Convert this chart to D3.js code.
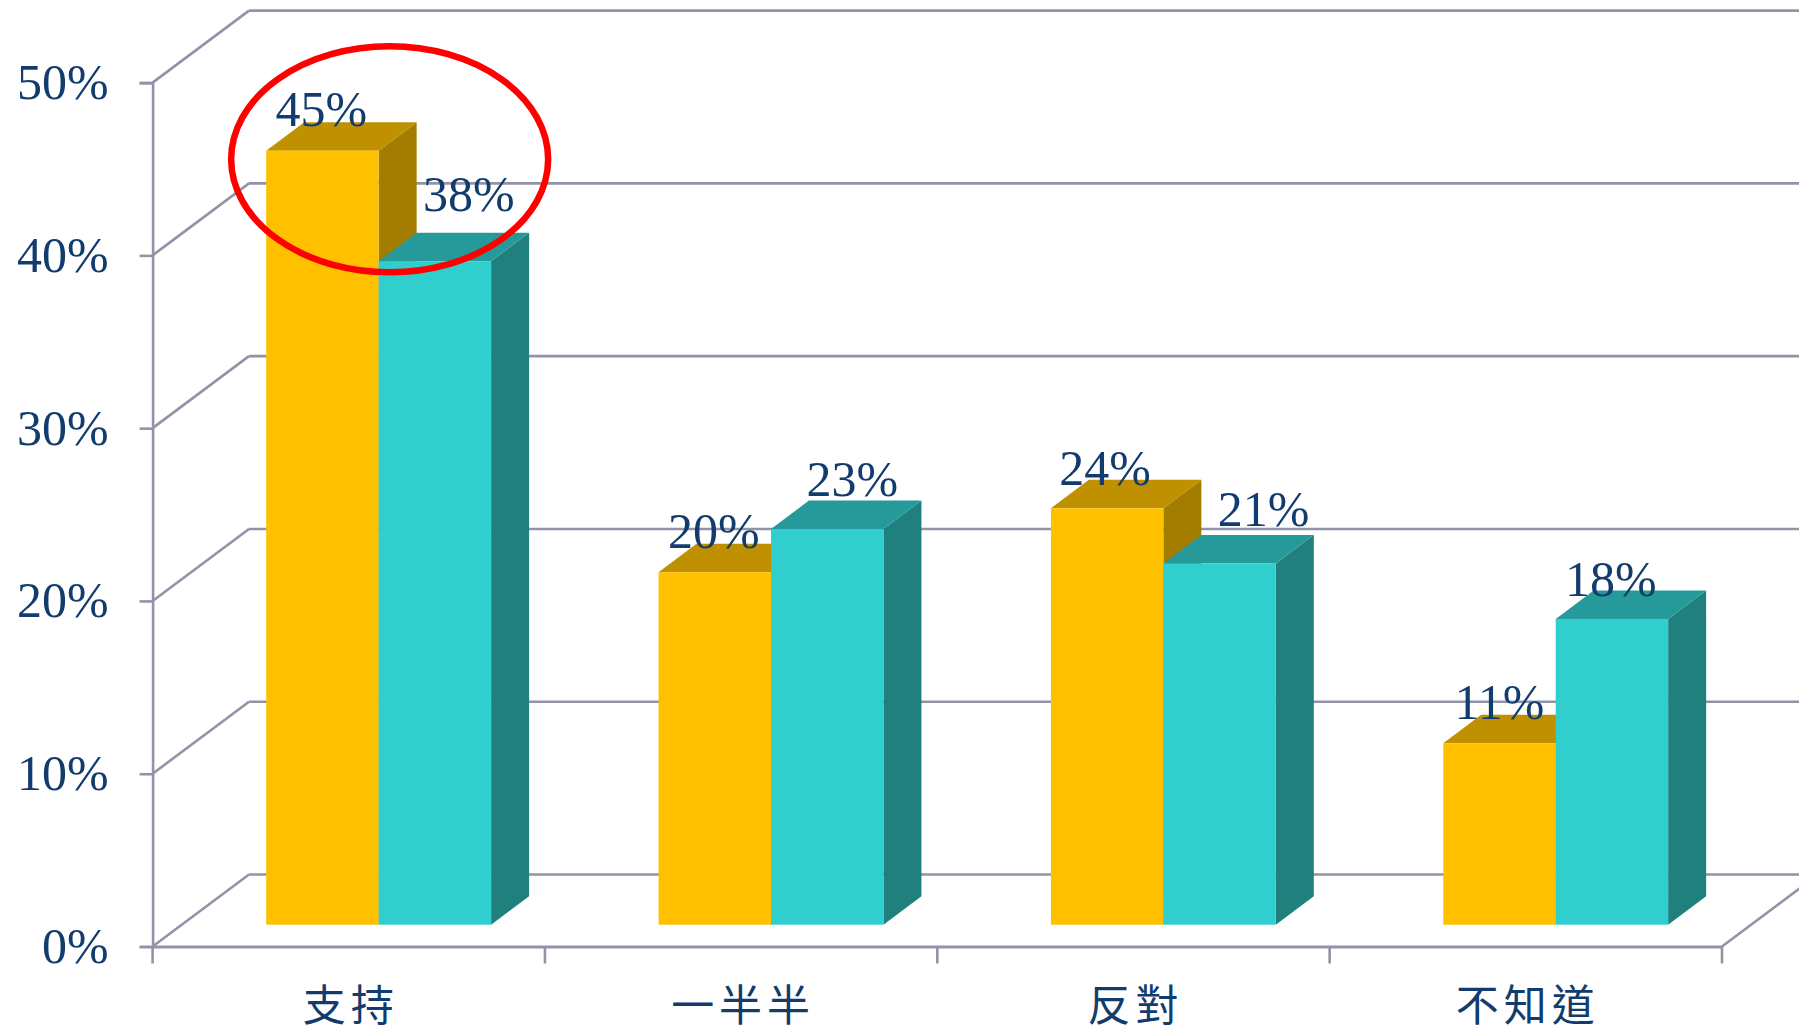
<!DOCTYPE html>
<html>
<head>
<meta charset="utf-8">
<script src="https://cdn.jsdelivr.net/npm/d3@7"></script>
<style>
  html, body { margin: 0; padding: 0; background: #fff; overflow: hidden; }
  svg { display: block; }
  text { fill: #123c6e; font-family: "Liberation Serif", serif; }
</style>
</head>
<body>
<div id="chart"></div>
<script>
const categories = ["支持", "一半半", "反對", "不知道"];
const seriesNames = ["a", "b"];
const seriesA = [44.8, 20.4, 24.1, 10.5];
const seriesB = [38.4, 22.9, 20.9, 17.7];
const yTicks = [0, 10, 20, 30, 40, 50];

const width = 1799, height = 1030;
const gridColor = "#9393a8";
const faces = {
  a: { front: "#ffc000", top: "#bf9000", side: "#a37d00" },
  b: { front: "#31cece", top: "#269a9a", side: "#1f807e" }
};
// the labels were moved by hand in the original, one [dx, dy] per bar
const labelNudge = {
  a: [[-1, 4], [-1, 4], [-2, 5], [0, 4]],
  b: [[34, -22], [25, -5], [44, -9], [-1, 6]]
};

const wallDepth = { x: 96.4, y: -72 };
const barDepth = { x: 38, y: -28.5 };
const barDrop = 21.8; // bars stand this far behind the front edge of the floor

const y = d3.scaleLinear().domain([0, 50]).range([946.5, 82.6]);
const x = d3.scaleBand().domain(categories).range([152.6, 1722]);
const xBar = d3.scaleBand().domain(seriesNames).range([113.6, 338.5]);

const svg = d3.select("#chart").append("svg")
  .attr("width", width)
  .attr("height", height);

// back wall lines, side wall diagonals
const grid = svg.append("g")
  .attr("fill", "none")
  .attr("stroke", gridColor)
  .attr("stroke-width", 2.6);

grid.selectAll(".back")
  .data(yTicks)
  .enter().append("line")
  .attr("class", "back")
  .attr("x1", x.range()[0] + wallDepth.x)
  .attr("x2", x.range()[1] + wallDepth.x)
  .attr("y1", d => y(d) + wallDepth.y)
  .attr("y2", d => y(d) + wallDepth.y);

grid.selectAll(".diag")
  .data(yTicks)
  .enter().append("line")
  .attr("class", "diag")
  .attr("x1", x.range()[0])
  .attr("x2", x.range()[0] + wallDepth.x)
  .attr("y1", d => y(d))
  .attr("y2", d => y(d) + wallDepth.y);

// floor diagonal on the right
grid.append("line")
  .attr("x1", x.range()[1])
  .attr("x2", x.range()[1] + wallDepth.x)
  .attr("y1", y(0))
  .attr("y2", y(0) + wallDepth.y);

// axes
const yAxis = d3.axisLeft(y)
  .tickValues(yTicks)
  .tickFormat(d => d + "%")
  .tickSize(13)
  .tickPadding(31);

const yG = svg.append("g")
  .attr("transform", `translate(${x.range()[0]},0)`)
  .call(yAxis);
yG.select(".domain").attr("stroke", gridColor).attr("stroke-width", 2.6);
yG.selectAll(".tick line").attr("stroke", gridColor).attr("stroke-width", 2.6);
yG.selectAll(".tick text")
  .style("font-family", '"Liberation Serif", serif')
  .style("font-size", "50px")
  .style("fill", "#123c6e");

const xAxis = d3.axisBottom(x)
  .tickSize(0)
  .tickPadding(44);

const xG = svg.append("g")
  .attr("transform", `translate(0,${y(0)})`)
  .call(xAxis);
xG.select(".domain").attr("stroke", gridColor).attr("stroke-width", 3);
xG.selectAll(".tick text")
  .attr("dx", "2")
  .style("font-family", '"Liberation Serif", "Noto Sans CJK TC", sans-serif')
  .style("font-size", "43px")
  .style("letter-spacing", "5px")
  .style("fill", "#123c6e");

// category separators sit on the band edges, so the band axis can't draw them
xG.selectAll(".sep")
  .data(categories.concat([null]))
  .enter().append("line")
  .attr("class", "sep")
  .attr("x1", (d, i) => x.range()[0] + i * x.step())
  .attr("x2", (d, i) => x.range()[0] + i * x.step())
  .attr("y1", 0)
  .attr("y2", 17)
  .attr("stroke", gridColor)
  .attr("stroke-width", 2.6);

// bars
const barData = [];
categories.forEach((c, i) => {
  barData.push({ cat: c, s: "a", v: seriesA[i], i: i });
  barData.push({ cat: c, s: "b", v: seriesB[i], i: i });
});

const barBase = y(0) - barDrop;
const barTop = v => y(v) - barDrop;
const bw = xBar.bandwidth();

const bars = svg.selectAll(".bar")
  .data(barData)
  .enter().append("g")
  .attr("class", "bar")
  .attr("transform", d => `translate(${x(d.cat) + xBar(d.s)},0)`);

bars.each(function (d) {
  const g = d3.select(this);
  const t = barTop(d.v);
  const path = d3.path();
  path.moveTo(bw, barBase);
  path.lineTo(bw + barDepth.x, barBase + barDepth.y);
  path.lineTo(bw + barDepth.x, t + barDepth.y);
  path.lineTo(bw, t);
  path.closePath();
  g.append("path").attr("d", path.toString()).attr("fill", faces[d.s].side);

  const top = d3.path();
  top.moveTo(0, t);
  top.lineTo(barDepth.x, t + barDepth.y);
  top.lineTo(bw + barDepth.x, t + barDepth.y);
  top.lineTo(bw, t);
  top.closePath();
  g.append("path").attr("d", top.toString()).attr("fill", faces[d.s].top);

  g.append("rect")
    .attr("x", 0)
    .attr("y", t)
    .attr("width", bw)
    .attr("height", barBase - t)
    .attr("fill", faces[d.s].front);
});

// the second bar of a group hides the side face of the first, so redraw in order
bars.filter(d => d.s === "b").raise();

svg.selectAll(".value")
  .data(barData)
  .enter().append("text")
  .attr("class", "value")
  .attr("x", d => x(d.cat) + xBar(d.s) + bw / 2 + labelNudge[d.s][d.i][0])
  .attr("y", d => barTop(d.v) + barDepth.y + labelNudge[d.s][d.i][1])
  .attr("text-anchor", "middle")
  .style("font-size", "50px")
  .text(d => Math.round(d.v) + "%");

// red annotation ring round the first group
svg.append("ellipse")
  .attr("cx", x(categories[0]) + xBar("b") + 11)
  .attr("cy", barTop(44.3))
  .attr("rx", 158.5)
  .attr("ry", 113)
  .attr("fill", "none")
  .attr("stroke", "#ff0000")
  .attr("stroke-width", 6.5);
</script>
</body>
</html>
